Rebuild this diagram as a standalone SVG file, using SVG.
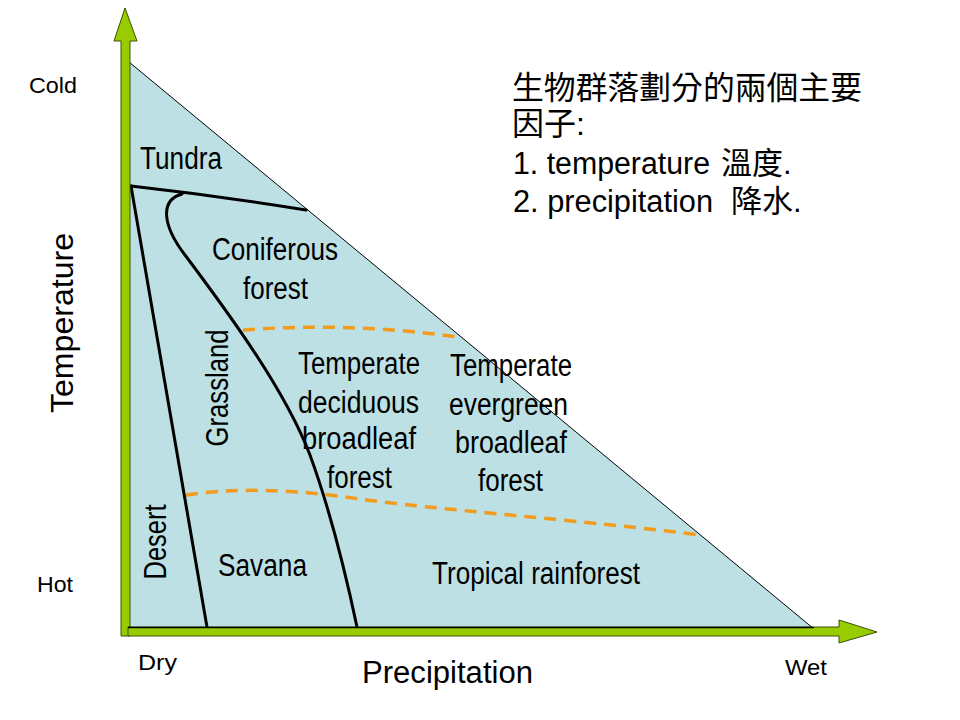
<svg xmlns="http://www.w3.org/2000/svg" width="960" height="720" viewBox="0 0 960 720">
<style>
.lbl{font-family:"Liberation Sans",Arial,sans-serif;fill:#000;}
.reg{font-size:31px;}
.ax{font-size:22px;}
.big{font-size:31px;}
.cjk{font-family:"Liberation Sans","Noto Sans CJK TC",sans-serif;fill:#000;}
.bound{fill:none;stroke:#000;stroke-width:3;stroke-linecap:round;}
.dash{fill:none;stroke:#f29b1c;stroke-width:3.5;stroke-dasharray:12 8;}
.arrow{fill:#99cc00;stroke:#3a5200;stroke-width:1;}
</style>
<rect width="960" height="720" fill="#fff"/>
<g id="biome-area">
<polygon points="129,62 129,629 814,629" fill="#bde0e4" stroke="#000" stroke-width="1"/>
</g>
<g id="connectors">
<path class="bound" d="M131,186 Q220,196 306,210"/>
<path class="bound" d="M131,186 L207,627"/>
<path class="bound" d="M182,194 C160,200 162,225 185,255 C230,315 285,390 310,455 C330,510 345,570 357,627"/>
<path class="dash" d="M243,330 Q350,322 458,337"/>
<path class="dash" d="M186,495 C240,487 300,490 360,499 S600,522 700,535"/>
</g>
<g id="axis-temperature">
<polygon class="arrow" points="121,636 121,41 114,41 125,8 137,41 130,41 130,636"/>
</g>
<g id="axis-precipitation">
<polygon class="arrow" points="128,627 839,627 839,620 877,632 839,643 839,636 128,636"/>
<line x1="128" y1="627.5" x2="814" y2="627.5" stroke="#000" stroke-width="1.5"/>
</g>
<g id="axis-labels">
<text class="lbl ax" x="29" y="93" textLength="48" lengthAdjust="spacingAndGlyphs">Cold</text>
<text class="lbl ax" x="37" y="592" textLength="36" lengthAdjust="spacingAndGlyphs">Hot</text>
<text class="lbl ax" x="138" y="670" textLength="39" lengthAdjust="spacingAndGlyphs">Dry</text>
<text class="lbl ax" x="785" y="675" textLength="42" lengthAdjust="spacingAndGlyphs">Wet</text>
<text class="lbl big" x="362" y="683" textLength="171" lengthAdjust="spacingAndGlyphs">Precipitation</text>
<text class="lbl big" transform="translate(73,323) rotate(-90)" text-anchor="middle" textLength="180" lengthAdjust="spacingAndGlyphs">Temperature</text>
</g>
<g id="tundra"><text class="lbl reg" x="140" y="169" textLength="82" lengthAdjust="spacingAndGlyphs">Tundra</text></g>
<g id="coniferous-forest">
<text class="lbl reg" x="212" y="260" textLength="126" lengthAdjust="spacingAndGlyphs">Coniferous</text>
<text class="lbl reg" x="243" y="299" textLength="65" lengthAdjust="spacingAndGlyphs">forest</text>
</g>
<g id="temperate-deciduous">
<text class="lbl reg" x="298" y="374" textLength="122" lengthAdjust="spacingAndGlyphs">Temperate</text>
<text class="lbl reg" x="298" y="413" textLength="121" lengthAdjust="spacingAndGlyphs">deciduous</text>
<text class="lbl reg" x="302" y="449" textLength="114" lengthAdjust="spacingAndGlyphs">broadleaf</text>
<text class="lbl reg" x="327" y="488" textLength="65" lengthAdjust="spacingAndGlyphs">forest</text>
</g>
<g id="temperate-evergreen">
<text class="lbl reg" x="450" y="376" textLength="122" lengthAdjust="spacingAndGlyphs">Temperate</text>
<text class="lbl reg" x="449" y="415" textLength="119" lengthAdjust="spacingAndGlyphs">evergreen</text>
<text class="lbl reg" x="455" y="453" textLength="112" lengthAdjust="spacingAndGlyphs">broadleaf</text>
<text class="lbl reg" x="478" y="491" textLength="65" lengthAdjust="spacingAndGlyphs">forest</text>
</g>
<g id="grassland"><text class="lbl reg" transform="translate(228,388) rotate(-90)" text-anchor="middle" textLength="117" lengthAdjust="spacingAndGlyphs">Grassland</text></g>
<g id="desert"><text class="lbl reg" transform="translate(166,542) rotate(-90)" text-anchor="middle" textLength="75" lengthAdjust="spacingAndGlyphs">Desert</text></g>
<g id="savana"><text class="lbl reg" x="218" y="576" textLength="89" lengthAdjust="spacingAndGlyphs">Savana</text></g>
<g id="tropical-rainforest"><text class="lbl reg" x="432" y="584" textLength="208" lengthAdjust="spacingAndGlyphs">Tropical rainforest</text></g>
<g id="note">
<text class="cjk" x="512" y="99" font-size="32" textLength="350" lengthAdjust="spacingAndGlyphs">生物群落劃分的兩個主要</text>
<text class="cjk" x="512" y="135" font-size="32">因子:</text>
<text class="cjk" x="513" y="174" font-size="31"><tspan textLength="197" lengthAdjust="spacingAndGlyphs">1. temperature</tspan><tspan x="721">溫度.</tspan></text>
<text class="cjk" x="513" y="212" font-size="31"><tspan textLength="200" lengthAdjust="spacingAndGlyphs">2. precipitation</tspan><tspan x="731">降水.</tspan></text>
</g>
</svg>
